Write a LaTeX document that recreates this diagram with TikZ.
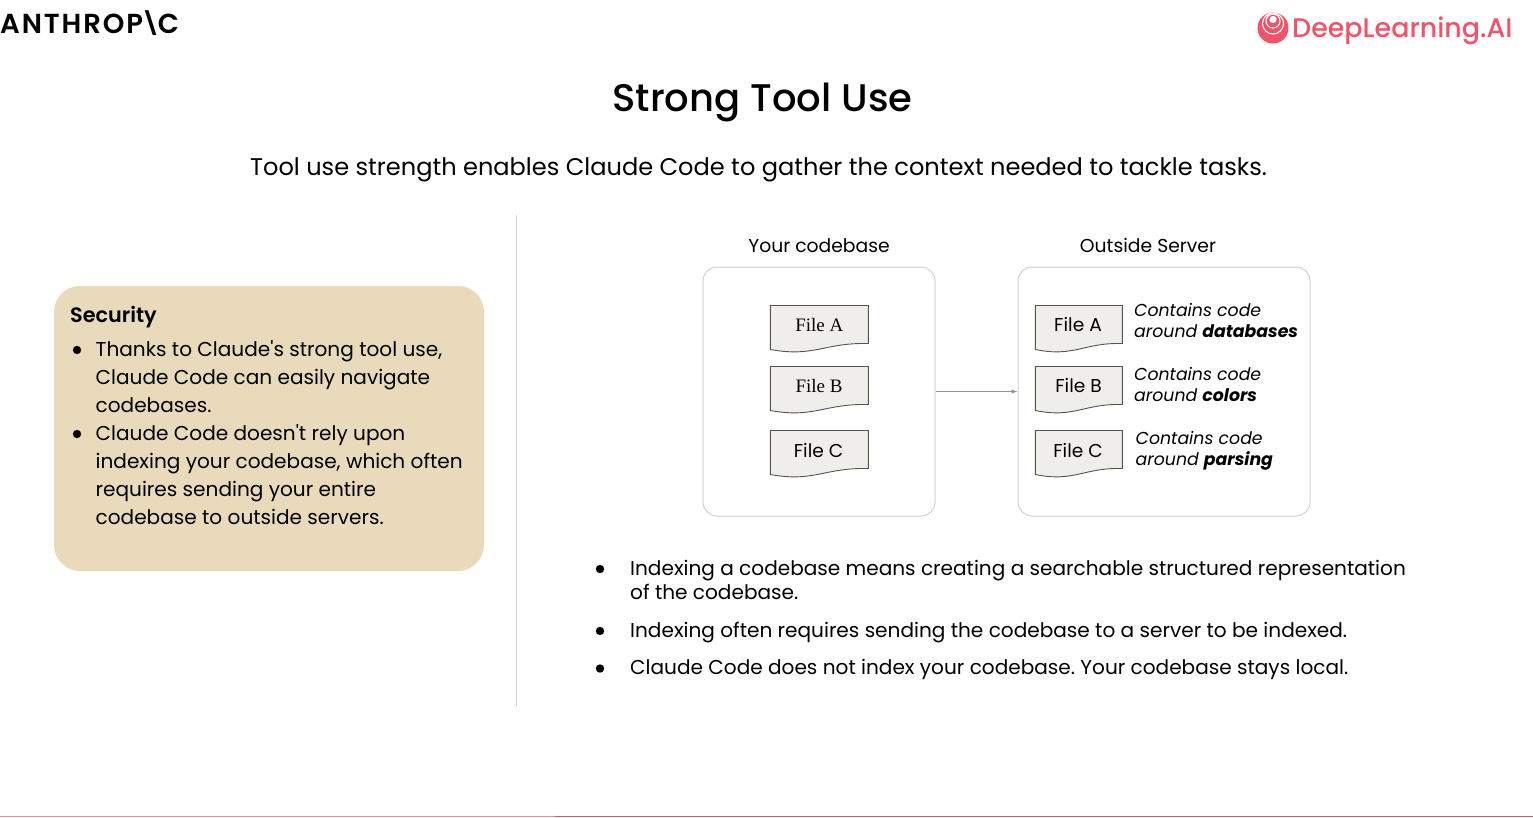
\documentclass[tikz,border=0pt]{standalone}
\usepackage{fontspec}
\setmainfont{Poppins}
\newfontfamily\pplain{Poppins}
\newfontfamily\pmed{Poppins Medium}
\newfontfamily\psemi{Poppins SemiBold}
\newfontfamily\fileserif{Liberation Serif}
\usetikzlibrary{arrows.meta}
\definecolor{tan}{HTML}{E9DABB}
\definecolor{rule}{HTML}{D2D2CE}
\definecolor{dlai}{HTML}{F0546A}
\definecolor{docfill}{HTML}{EFEEEA}
\definecolor{docline}{HTML}{55554F}
\tikzset{
  txt/.style={inner sep=0pt,anchor=base west,text=black},
  body/.style={txt,font=\frenchspacing\pplain\fontsize{20.07}{28}\selectfont},
  card/.style={txt,font=\pplain\fontsize{20.07}{28}\selectfont},
  capt/.style={inner sep=0pt,anchor=base,font=\fontsize{18.75}{24}\selectfont},
  note/.style={txt,font=\fontsize{17.3}{21}\selectfont\itshape},
  group/.style={draw=rule,line width=1pt,rounded corners=14pt,fill=white,inner sep=0pt},
  docshape/.style={draw=docline,fill=docfill,line width=0.9pt},
  flabel/.style={inner sep=0pt,anchor=base,font=\fontsize{18.6}{24}\selectfont},
  slabel/.style={inner sep=0pt,anchor=base,font=\fileserif\fontsize{19}{24}\selectfont},
  link/.style={draw=gray!85,line width=0.7pt,-{Latex[length=6pt,width=4.5pt]}},
  dot/.style={fill=black}
}
% x, y top, width, height to right bottom
\newcommand\docat[4]{\path[docshape] (#1,#2) -- ++(#3,0) -- ++(0,#4)
  .. controls +(-0.45*#3,-1) and +(0.45*#3,8) .. ++(-#3,6) -- cycle;}
\begin{document}
\begin{tikzpicture}[x=1pt,y=-1pt]
\useasboundingbox (0,0) rectangle (1533,817);
\fill[white] (0,0) rectangle (1533,817);
% logos
\node[inner sep=0pt,anchor=base west,font=\psemi\fontsize{27.5}{30}\selectfont] (anth) at (0,33)
  {\addfontfeature{LetterSpace=7}ANTHROP\kern-3pt\raisebox{1.4pt}{\scalebox{1}[0.8]{\textbackslash}}\kern-3pt C};
\fill[dlai] (1273,28) circle (15.5);
\draw[white,line width=1.1pt] (1273,23.5) circle (10.5);
\draw[white,line width=1.1pt] (1273,21) circle (7);
\fill[white] (1273,19.5) circle (3.6);
\node[inner sep=0pt,anchor=base west,text=dlai,font=\pmed\fontsize{26.9}{30}\selectfont] (dl) at (1292,37) {DeepLearning.AI};
% headings
\node[inner sep=0pt,anchor=base,font=\pmed\fontsize{38.5}{44}\selectfont] (title) at (762.5,111) {Strong Tool Use};
\node[inner sep=0pt,anchor=base,font=\fontsize{24.07}{30}\selectfont] (sub) at (758.5,175) {Tool use strength enables Claude Code to gather the context needed to tackle tasks.};
% divider
\coordinate (dt) at (516.5,215);
\coordinate (db) at (516.5,706);
\draw[rule,line width=1pt] (dt) -- (db);
% security card
\node[fill=tan,rounded corners=26pt,minimum width=430pt,minimum height=285pt,inner sep=0pt] (sec) at (269,428.5) {};
\node[txt,font=\psemi\fontsize{20.8}{28}\selectfont] (sech) at (70,322.5) {Security};
\fill[dot] (77,350) circle (4.2);
\fill[dot] (77,434) circle (4.2);
\node[card] (c1) at (95.5,356.5) {Thanks to Claude's strong tool use,};
\node[card] (c2) at (95.5,384.5) {Claude Code can easily navigate};
\node[card] (c3) at (95.5,412.5) {codebases.};
\node[card] (c4) at (95.5,440.5) {Claude Code doesn't rely upon};
\node[card] (c5) at (95.5,468.5) {indexing your codebase, which often};
\node[card] (c6) at (95.5,496.5) {requires sending your entire};
\node[card] (c7) at (95.5,524.5) {codebase to outside servers.};
% groups
\node[capt] (yc) at (819,252.7) {Your codebase};
\node[capt] (os) at (1148,252.7) {Outside Server};
\node[group,minimum width=232pt,minimum height=249pt] (g1) at (819,391.5) {};
\node[group,minimum width=292pt,minimum height=249pt] (g2) at (1164,391.5) {};
\draw[link] (g1.east) -- (g2.west);
% documents
\docat{770.3}{305.5}{98}{38}
\docat{770.3}{366.5}{98}{38}
\docat{770.3}{430.5}{98}{38}
\docat{1035.3}{305.5}{87}{38}
\docat{1035.3}{366.5}{87}{38}
\docat{1035.3}{430.5}{87}{38}
\node[slabel] (la) at (819.3,331) {File A};
\node[slabel] (lb) at (819,392) {File B};
\node[flabel] (lc) at (818.5,457) {File C};
\node[flabel] (ra) at (1078,331) {File A};
\node[flabel] (rb) at (1078.5,392) {File B};
\node[flabel] (rc) at (1078,457) {File C};
\node[note] (n1a) at (1134,316) {Contains code};
\node[note] (n1b) at (1134,337) {around \textbf{databases}};
\node[note] (n2a) at (1134,380) {Contains code};
\node[note] (n2b) at (1134,401) {around \textbf{colors}};
\node[note] (n3a) at (1135.5,444.5) {Contains code};
\node[note] (n3b) at (1135.5,465.5) {around \textbf{parsing}};
% bullets
\fill[dot] (600,569) circle (4.2);
\fill[dot] (600,631) circle (4.2);
\fill[dot] (600,668.5) circle (4.2);
\node[body] (b1) at (630,575.5) {Indexing a codebase means creating a searchable structured representation};
\node[body] (b2) at (630,599.7) {of the codebase.};
\node[body] (b3) at (630,637.5) {Indexing often requires sending the codebase to a server to be indexed.};
\node[body] (b4) at (630,674.7) {Claude Code does not index your codebase. Your codebase stays local.};
% bottom rule
\coordinate (r0) at (0,816.3);
\coordinate (r1) at (555,816.3);
\coordinate (r2) at (1533,816.3);
\draw[color=dlai!65,line width=1.2pt] (r0) -- (r1);
\draw[color=black!20!dlai!85,line width=1.2pt] (r1) -- (r2);
\end{tikzpicture}
\end{document}
